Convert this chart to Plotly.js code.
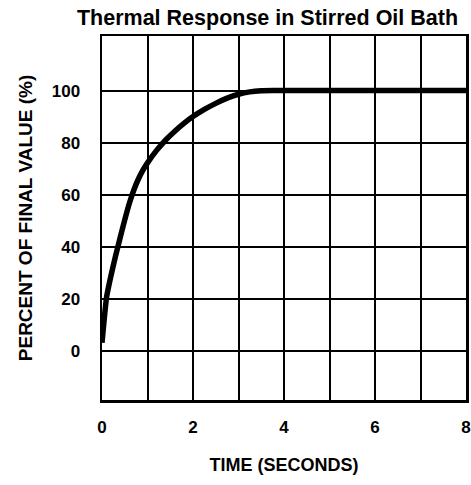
<!DOCTYPE html>
<html>
<head>
<meta charset="utf-8">
<script src="https://cdn.plot.ly/plotly-3.0.1.min.js"></script>
<style>html,body{margin:0;padding:0;background:#fff;}#chart{width:471px;height:485px;}</style>
</head>
<body>
<div id="chart"></div>
<script>
const timeSeconds = [0, 0.1, 0.2, 0.3, 0.4, 0.5, 0.6, 0.7, 0.8, 0.9, 1.0, 1.2, 1.4, 1.6, 1.8, 2.0, 2.25, 2.5, 2.75, 3.0, 3.25, 3.5, 3.75, 4.0, 6.0, 8.0];
const percentFinal = [3, 20.5, 29, 36.5, 43.5, 50.3, 56.6, 61.8, 66, 69.4, 72.2, 77, 81, 84.4, 87.4, 90, 92.75, 95.1, 97.1, 98.6, 99.5, 99.9, 100, 100, 100, 100];
const xTickVals = [0, 2, 4, 6, 8];
const yTickVals = [0, 20, 40, 60, 80, 100];

const tickFont = {family: 'Liberation Sans, Arial, sans-serif', size: 17, color: '#000', weight: 700};
const xTitleFont = {family: 'Liberation Sans, Arial, sans-serif', size: 18, color: '#000', weight: 700};
const yTitleFont = {family: 'Liberation Sans, Arial, sans-serif', size: 19, color: '#000', weight: 700};

const trace = {
  x: timeSeconds, y: percentFinal, type: 'scatter', mode: 'lines',
  line: {color: '#000', width: 5.5, shape: 'spline', smoothing: 0.5},
  hoverinfo: 'skip'
};

const layout = {
  width: 471, height: 485,
  margin: {l: 102, r: 5, t: 36, b: 85},
  paper_bgcolor: '#fff', plot_bgcolor: '#fff',
  showlegend: false,
  title: {text: 'Thermal Response in Stirred Oil Bath', x: 0.568, xanchor: 'center', y: 0.965, yanchor: 'middle',
          font: {family: 'Liberation Sans, Arial, sans-serif', size: 21.5, color: '#000', weight: 700}},
  xaxis: {
    range: [0, 8], tickvals: xTickVals, ticktext: xTickVals.map(String),
    showgrid: true, gridcolor: '#000', gridwidth: 2,
    minor: {dtick: 1, showgrid: true, gridcolor: '#000', gridwidth: 2, ticks: ''},
    zeroline: false, showline: true, mirror: true, linecolor: '#000', linewidth: 2.5,
    ticks: 'outside', ticklen: 10, tickcolor: 'rgba(0,0,0,0)', tickfont: tickFont,
    title: {text: 'TIME (SECONDS)', font: xTitleFont, standoff: 23}
  },
  yaxis: {
    range: [-19, 121], tickvals: yTickVals, ticktext: yTickVals.map(String),
    showgrid: true, gridcolor: '#000', gridwidth: 2,
    zeroline: false, showline: true, mirror: true, linecolor: '#000', linewidth: 2.5,
    ticks: 'outside', ticklen: 16, tickcolor: 'rgba(0,0,0,0)', tickfont: tickFont,
    title: {text: 'PERCENT OF FINAL VALUE (%)', font: yTitleFont, standoff: 14}
  }
};

Plotly.newPlot('chart', [trace], layout, {displayModeBar: false, staticPlot: true});
</script>
</body>
</html>
